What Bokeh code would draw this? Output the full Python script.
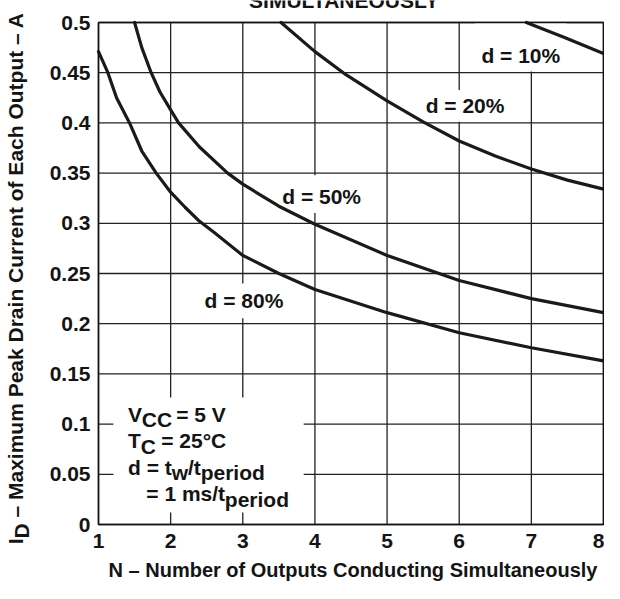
from math import pi
from bokeh.plotting import figure
from bokeh.models import Range1d, FixedTicker, Label, LinearAxis
from bokeh.embed import file_html
from bokeh.resources import INLINE

# ---------------- data ----------------
n_10 = [6.93, 7.46, 8.0]
i_10 = [0.500, 0.485, 0.469]

n_20 = [3.53, 4.0, 4.43, 5.0, 5.5, 6.0, 6.5, 7.0, 7.5, 8.0]
i_20 = [0.500, 0.471, 0.448, 0.422, 0.401, 0.382, 0.367, 0.354, 0.343, 0.334]

n_50 = [1.50, 1.60, 1.73, 1.85, 2.0, 2.11, 2.4, 2.79, 3.0, 3.5, 4.0, 5.0, 6.0, 7.0, 8.0]
i_50 = [0.500, 0.475, 0.450, 0.431, 0.413, 0.400, 0.376, 0.350, 0.339, 0.317, 0.299, 0.268, 0.243, 0.225, 0.211]

n_80 = [1.0, 1.13, 1.25, 1.43, 1.60, 1.80, 2.0, 2.2, 2.4, 2.6, 3.0, 3.5, 4.0, 5.0, 6.0, 7.0, 8.0]
i_80 = [0.471, 0.450, 0.425, 0.400, 0.372, 0.350, 0.331, 0.316, 0.302, 0.291, 0.268, 0.250, 0.234, 0.211, 0.191, 0.176, 0.163]

curve_labels = ["d = 10%", "d = 20%", "d = 50%", "d = 80%"]

x_ticks = [1, 2, 3, 4, 5, 6, 7, 8]
x_tick_labels = ["1", "2", "3", "4", "5", "6", "7", "8"]
y_ticks = [0, 0.05, 0.1, 0.15, 0.2, 0.25, 0.3, 0.35, 0.4, 0.45, 0.5]
y_tick_labels = ["0", "0.05", "0.1", "0.15", "0.2", "0.25", "0.3", "0.35", "0.4", "0.45", "0.5"]

x_title = "N \u2013 Number of Outputs Conducting Simultaneously"
y_title_main = "I"
y_title_sub = "D"
y_title_rest = "\u2013 Maximum Peak Drain Current of Each Output \u2013 A"
top_title = "SIMULTANEOUSLY"

# ---------------- layout ----------------
W, H = 604, 583
X0, X1 = 1, 8
Y0, Y1 = 0, 0.5
# plot-area edges in this canvas (pixels)
FL, FR, FT, FB = 98, 603, 22, 524
# plot-area edges in the reference picture (pixels), used to place labels
RL, RR, RT, RB = 102, 609, 24, 530
BASE_FIX = 7.5   # measured shift of an 'alphabetic' Label below its anchor


def cx(c):
    return X0 + (c - FL) * (X1 - X0) / (FR - FL)


def cy(c):
    return Y0 + (FB - c) * (Y1 - Y0) / (FB - FT)


def rcx(r):
    return FL + (r - RL) * (FR - FL) / (RR - RL)


def rcy(r):
    return FT + (r - RT) * (FB - FT) / (RB - RT)


def rx(r):
    return cx(rcx(r))


def ry(r):
    return cy(rcy(r))


FONT = "Liberation Sans"
FS = "21px"
TXT = "#141414"
INK = "#1a1a1a"
GRID = "#222222"

p = figure(width=W, height=H, output_backend="svg", toolbar_location=None,
           x_range=Range1d(cx(0), cx(W)), y_range=Range1d(cy(H), cy(0)),
           x_axis_location=None, y_axis_location=None, min_border=0)
p.background_fill_color = "white"
p.border_fill_color = "white"
p.outline_line_color = None
p.xgrid.visible = False
p.ygrid.visible = False

xaxis = LinearAxis(fixed_location=Y0, ticker=FixedTicker(ticks=x_ticks),
                   major_label_overrides=dict(zip(x_ticks, x_tick_labels)))
yaxis = LinearAxis(fixed_location=X0, ticker=FixedTicker(ticks=y_ticks),
                   major_label_overrides=dict(zip(y_ticks, y_tick_labels)))
for ax in (xaxis, yaxis):
    ax.axis_line_color = None
    ax.major_tick_line_color = None
    ax.minor_tick_line_color = None
    ax.major_tick_out = 0
    ax.major_tick_in = 0
    ax.minor_tick_out = 0
    ax.minor_tick_in = 0
    ax.major_label_text_font = FONT
    ax.major_label_text_font_style = "bold"
    ax.major_label_text_font_size = FS
    ax.major_label_text_color = TXT
xaxis.major_label_standoff = 9
yaxis.major_label_standoff = 8
p.add_layout(xaxis, "below")
p.add_layout(yaxis, "left")

# grid lines (drawn under everything)
p.segment(x0=x_ticks, y0=[Y0] * len(x_ticks), x1=x_ticks, y1=[Y1] * len(x_ticks),
          line_color=GRID, line_width=1.3, level="underlay")
p.segment(x0=[X0] * len(y_ticks), y0=y_ticks, x1=[X1] * len(y_ticks), y1=y_ticks,
          line_color=GRID, line_width=1.3, level="underlay")

# white patches behind the labels (they break the grid lines); reference pixels
boxes = [
    (480, 572, 24.5, 73.5),
    (424, 516, 92, 124),
    (281, 371, 178, 216),
    (204, 293, 287, 322),
    (117, 308, 402, 518),
]
p.quad(left=[rx(b[0]) for b in boxes], right=[rx(b[1]) for b in boxes],
       top=[ry(b[2]) for b in boxes], bottom=[ry(b[3]) for b in boxes],
       fill_color="white", line_color=None, level="underlay")

for xs, ys in ((n_10, i_10), (n_20, i_20), (n_50, i_50), (n_80, i_80)):
    p.line(xs, ys, line_width=3.2, line_color=INK, line_cap="round", line_join="round")

# plot-area frame
p.quad(left=[X0], right=[X1], bottom=[Y0], top=[Y1], fill_color=None,
       line_color="#111111", line_width=1.6)


def lab(text, canvas_x, canvas_y, align="left", angle=0.0, size=FS):
    """canvas_x / canvas_y: where the text baseline should start (pixels)."""
    if angle == 0.0:
        canvas_y -= BASE_FIX
    else:
        canvas_x -= BASE_FIX
    p.add_layout(Label(x=cx(canvas_x), y=cy(canvas_y), text=text,
                       text_font=FONT, text_font_style="bold", text_font_size=size,
                       text_color=TXT, text_align=align, text_baseline="alphabetic",
                       angle=angle))


# curve labels (centre x, baseline y in reference pixels)
for txt, ccx, by in zip(curve_labels, [526, 470, 326, 248], [65, 115, 207, 312]):
    lab(txt, rcx(ccx), rcy(by), "center")

# conditions block (reference pixels)
for txt, X, Y in [("V", 131.7, 426.5), ("CC", 145.5, 432), ("= 5 V", 180.0, 426.5),
                  ("T", 131.7, 453), ("C", 144.5, 459), ("= 25\u00b0C", 165.0, 453),
                  ("d = t", 131.7, 480), ("w", 175.5, 485), ("/t", 191.8, 480),
                  ("period", 204.6, 485),
                  ("= 1 ms/t", 150.0, 506.5), ("period", 228.8, 512)]:
    lab(txt, rcx(X), rcy(Y))

# axis titles
lab(x_title, 352.5, 577, "center", size="20px")
lab(y_title_main, rcx(26), rcy(550), "left", pi / 2)
lab(y_title_sub, rcx(32), rcy(544.2), "left", pi / 2)
lab(y_title_rest, rcx(26), rcy(523), "left", pi / 2)

# chart title, cut off by the top edge as in the reference
lab(top_title, 343.5, 7, "center")

open("out.html", "w").write(file_html(p, INLINE))
